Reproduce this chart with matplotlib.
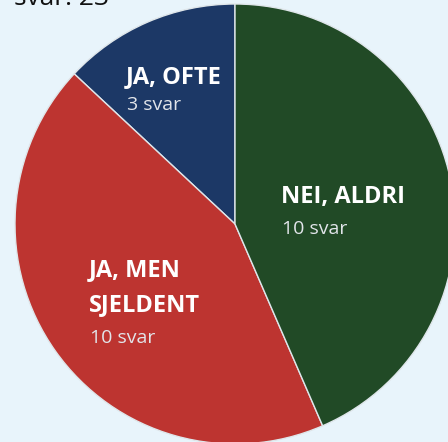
import matplotlib
matplotlib.use("Agg")
import matplotlib.pyplot as plt

categories = ["JA, OFTE", "JA, MEN\nSJELDENT", "NEI, ALDRI"]
counts = [3, 10, 10]
count_labels = ["3 svar", "10 svar", "10 svar"]
total_label = "svar: 23"
colors = ["#1c3866", "#bd3430", "#214a26"]
bg = "#e8f4fb"

W, H = 448, 442
fig = plt.figure(figsize=(W / 100, H / 100), dpi=100, facecolor=bg)
ax = fig.add_axes([0, 0, 1, 1])
ax.set_facecolor(bg)

cx, cy, r = 235, H - 224, 220
ax.pie(counts, colors=colors, startangle=90, counterclock=True,
       center=(cx, cy), radius=r,
       wedgeprops=dict(edgecolor="#dfe6ea", linewidth=1.0))
ax.set_xlim(0, W)
ax.set_ylim(0, H)
ax.set_aspect("auto")
ax.axis("off")

font = "Open Sans"
# label positions (pixel coords from top)
title_pos = [(126, 77), (89, 270), (281, 197)]
sub_pos = [(127, 105), (90, 338), (282, 229)]
line_gap = 35
for i, cat in enumerate(categories):
    x, y = title_pos[i]
    for j, line in enumerate(cat.split("\n")):
        ax.text(x, H - (y + j * line_gap), line, color="white", fontsize=17,
                fontweight="bold", family=font, ha="left", va="center")
    sx, sy = sub_pos[i]
    ax.text(sx, H - sy, count_labels[i], color="#e2e5ea", fontsize=14,
            fontweight="normal", family=font, ha="left", va="center")

ax.text(14, H - 5, total_label, color="#111111", fontsize=19, family=font,
        ha="left", va="baseline")

fig.savefig("out.png", dpi=100, facecolor=bg)
